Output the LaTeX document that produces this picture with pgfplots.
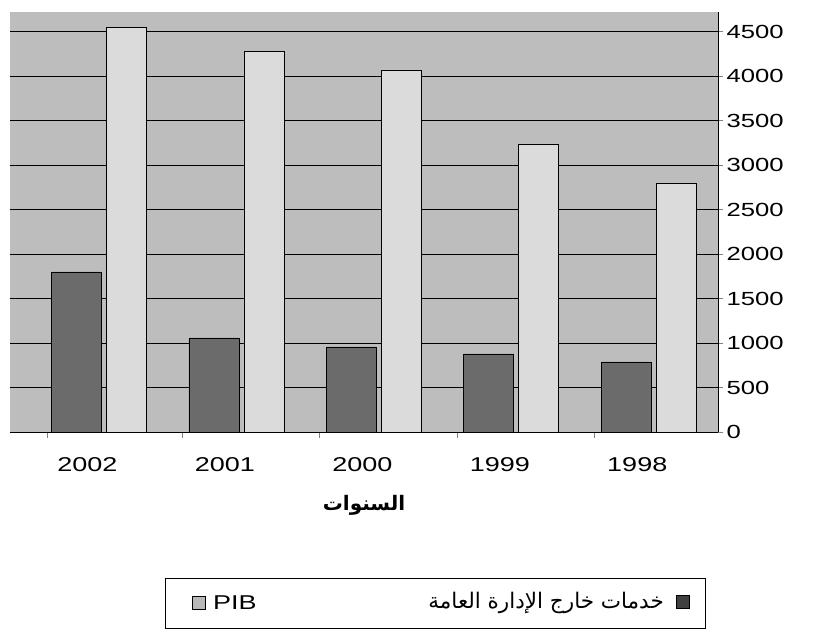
\documentclass[border=0pt]{standalone}
\usepackage{fontspec}
\setmainfont{Liberation Sans}[FakeStretch=1.35]
\newfontfamily\arabicfont[Script=Arabic]{DejaVu Sans}
\usepackage{pgfplots}
\pgfplotsset{compat=1.18}
\TeXXeTstate=1
\definecolor{bgc}{gray}{0.74}
\definecolor{lightbar}{gray}{0.86}
\definecolor{darkbar}{gray}{0.42}
\begin{document}
\begin{tikzpicture}
\begin{axis}[
  scale only axis, width=708pt, height=420pt,
  xmin=-0.65, xmax=4.5, ymin=0, ymax=4720,
  axis x line*=bottom, axis y line*=right,
  axis line style={black, line width=0.6pt},
  axis background/.style={fill=bgc},
  xtick={0,1,2,3,4}, xticklabels={2002,2001,2000,1999,1998},
  major x tick style={draw=none},
  minor xtick={-0.38,0.6,1.6,2.6,3.6},
  minor tick length=6pt, tick align=outside,
  ytick={0,500,...,4500}, major tick length=5pt,
  ymajorgrids, grid style={black, line width=0.7pt},
  tick label style={font=\fontsize{20}{22}\selectfont},
  yticklabel style={font=\fontsize{19}{22}\selectfont},
  xticklabel style={xshift=-12pt, yshift=-17pt},
  /pgf/number format/assume math mode=true,
  /pgf/number format/1000 sep={},
  xlabel={\arabicfont\bfseries\beginR السنوات\endR},
  xlabel style={font=\fontsize{20}{22}\selectfont, yshift=-17pt},
]
\addplot[ybar, bar width=40pt, bar shift=27pt, fill=lightbar, draw=black, line width=0.6pt]
  coordinates {(0,4545) (1,4275) (2,4070) (3,3230) (4,2800)};
\addplot[ybar, bar width=50pt, bar shift=-23pt, fill=darkbar, draw=black, line width=0.6pt]
  coordinates {(0,1800) (1,1057) (2,956) (3,877) (4,787)};
\end{axis}
% legend
\draw[line width=0.8pt] ([xshift=155pt,yshift=-146pt]current axis.south west) rectangle ([xshift=695pt,yshift=-196pt]current axis.south west);
\node[anchor=west, inner sep=0pt, font=\fontsize{20}{22}\selectfont] at ([xshift=182pt,yshift=-171pt]current axis.south west)
  {\tikz\filldraw[fill=gray!55,draw=black] (0,0) rectangle (13pt,13pt);\ PIB};
\node[anchor=east, inner sep=0pt, font=\fontsize{21.5}{24}\selectfont] at ([xshift=654pt,yshift=-171pt]current axis.south west)
  {\arabicfont\beginR خدمات خارج الإدارة العامة\endR};
\node[anchor=center, inner sep=0pt, minimum size=13pt, fill=darkbar!60!black, draw=black] at ([xshift=673pt,yshift=-170pt]current axis.south west) {};
\pgfresetboundingbox
\path ([xshift=-10pt,yshift=-198pt]current axis.south west) rectangle ([xshift=99pt,yshift=12pt]current axis.north east);
\end{tikzpicture}
\end{document}
